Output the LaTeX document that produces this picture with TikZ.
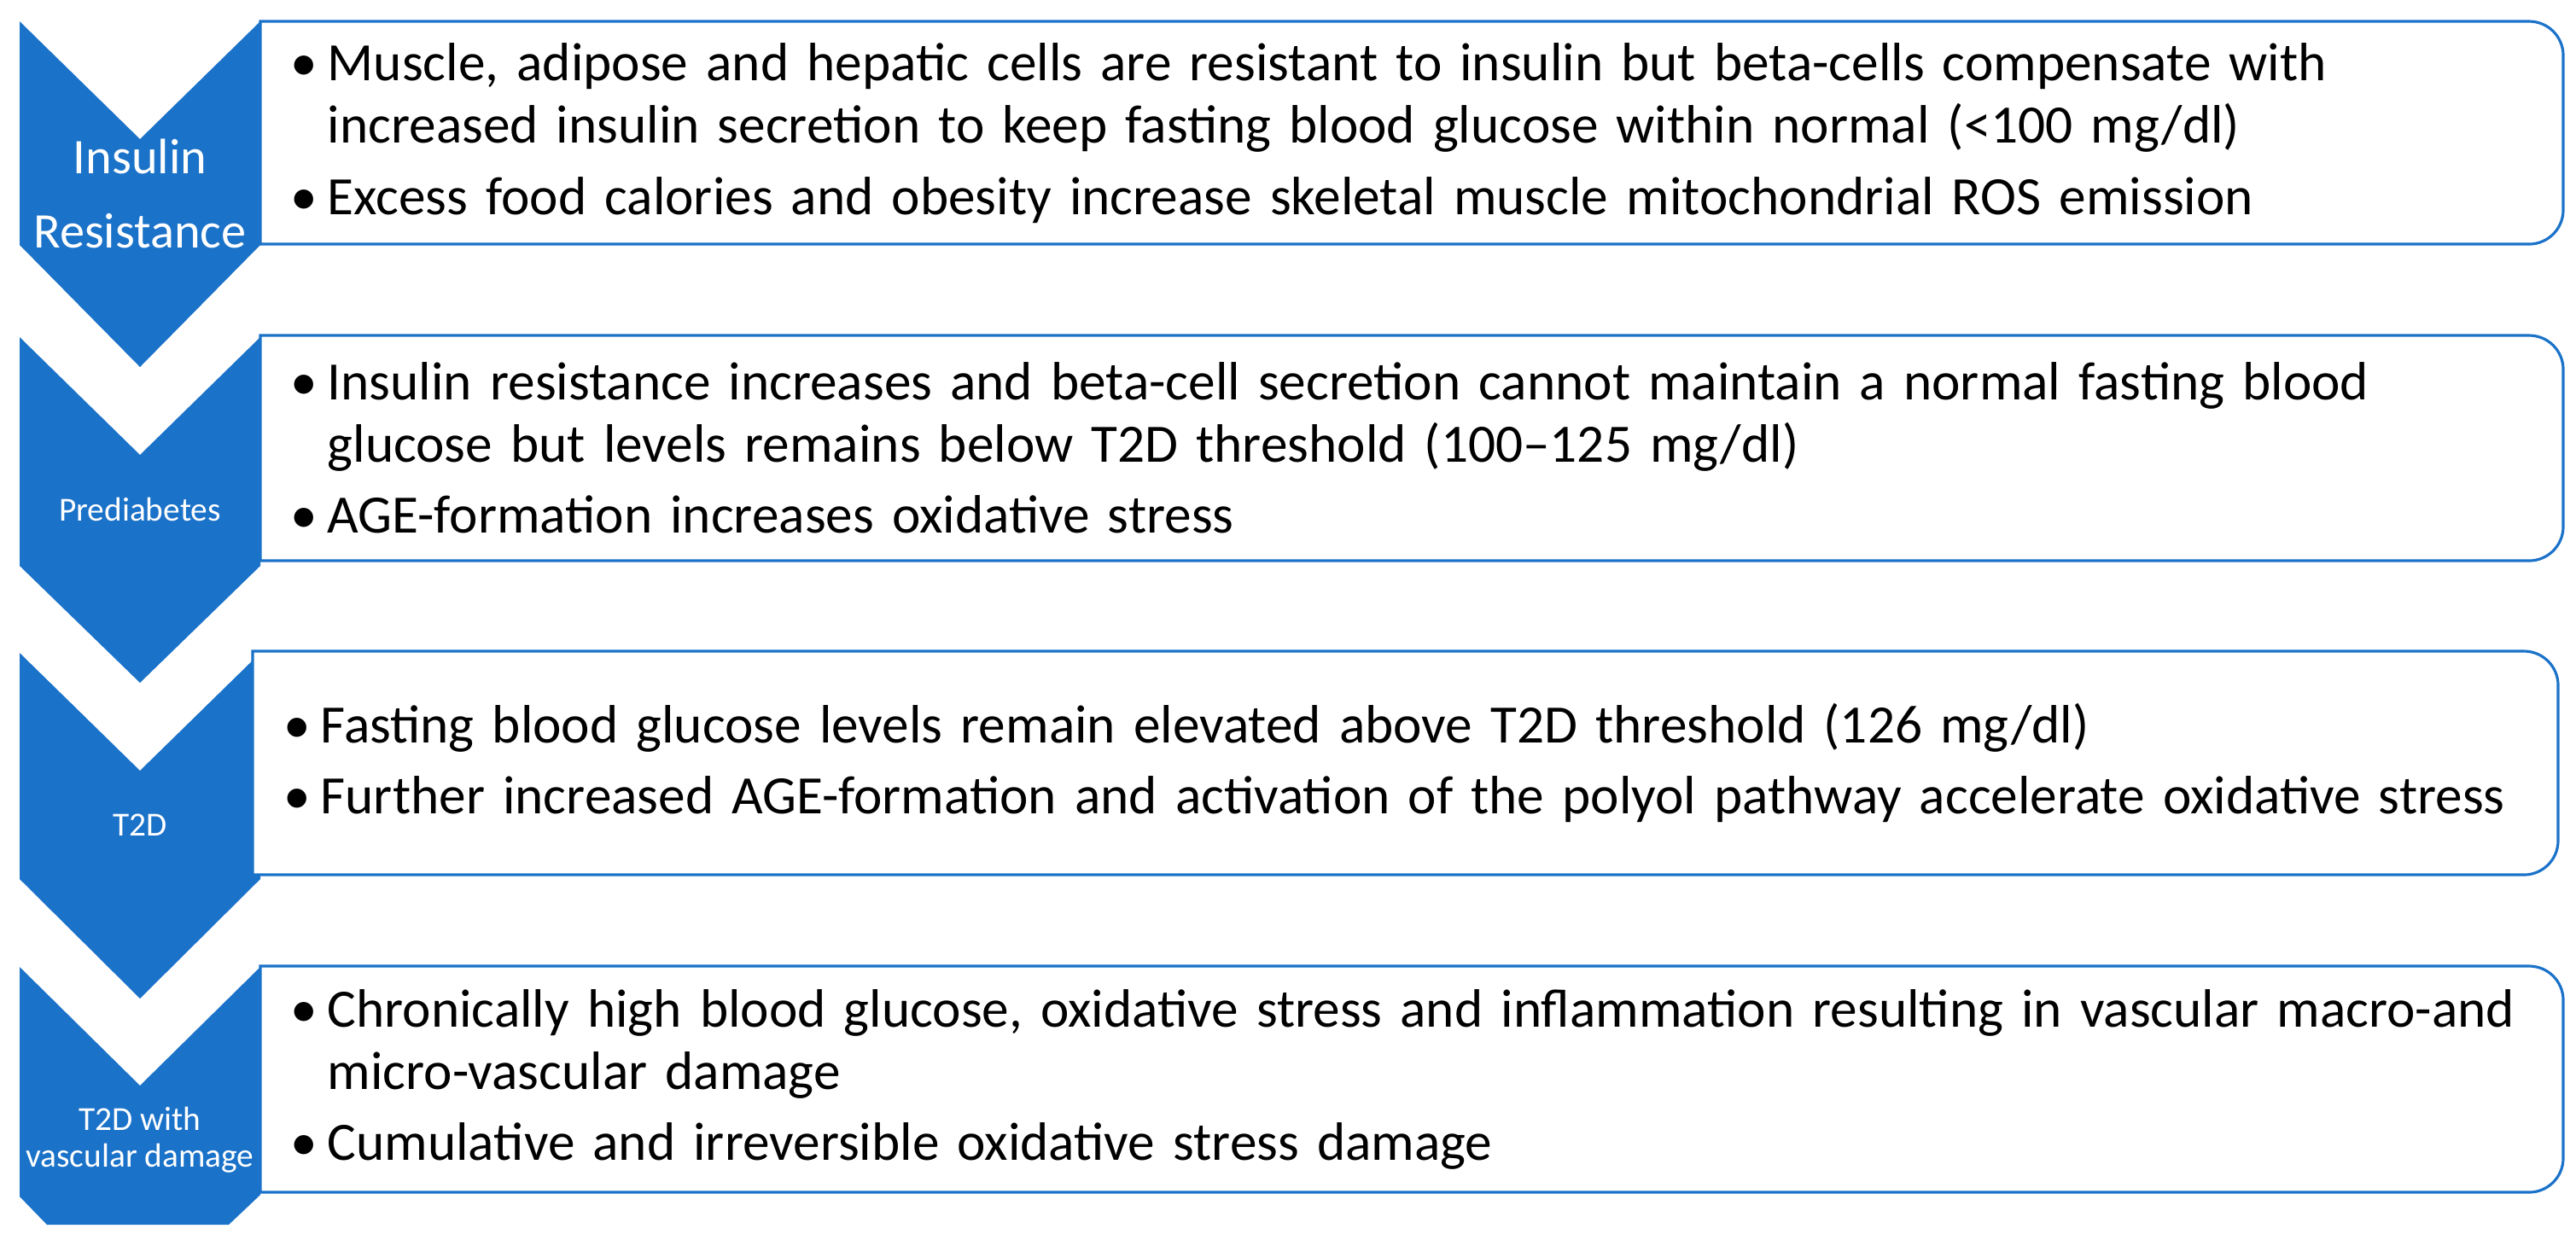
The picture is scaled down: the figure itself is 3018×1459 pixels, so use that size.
\documentclass[tikz,border=0pt]{standalone}
\usepackage{fontspec}
\setmainfont{Carlito}
\definecolor{stageblue}{RGB}{27,114,201}
\newcommand{\bpoint}[1]{\hangindent=0.43cm\hangafter=1\noindent\makebox[0.43cm][l]{\textbullet}#1\par}

\begin{document}
\begin{tikzpicture}[x=0.01cm,y=-0.01cm,
    chevron/.style={fill=stageblue},
    infobox/.style={draw=stageblue,line width=0.9pt,fill=white},
    stage/.style={text=white,align=center,inner sep=0pt,font=\fontsize{11.2}{12.2}\selectfont},
    points/.style={anchor=west,inner sep=0pt,text width=26.8cm,font=\fontsize{18}{20.8}\selectfont}]
    \useasboundingbox (0,0) rectangle (3018,1459);
    % chevrons down the left side
    \fill [chevron] (23,25) -- (164,163) -- (305,25) -- (305,287) -- (164,430) -- (23,287) -- cycle;
    \fill [chevron] (23,395) -- (164,533) -- (305,395) -- (305,663) -- (164,800) -- (23,663) -- cycle;
    \fill [chevron] (23,765) -- (164,903) -- (305,765) -- (305,1030) -- (164,1170) -- (23,1030) -- cycle;
    \fill [chevron] (23,1133) -- (164,1272) -- (305,1133) -- (305,1400) -- (268,1435) -- (55,1435) -- (23,1402) -- cycle;
    % text boxes, rounded on the right only
    \draw [infobox] (305,25) -- (2963,25) arc[start angle=90,end angle=0,radius=0.4cm] -- (3003,246) arc[start angle=0,end angle=-90,radius=0.4cm] -- (305,286) -- cycle;
    \draw [infobox] (305,393) -- (2963,393) arc[start angle=90,end angle=0,radius=0.4cm] -- (3003,617) arc[start angle=0,end angle=-90,radius=0.4cm] -- (305,657) -- cycle;
    \draw [infobox] (296,763) -- (2957,763) arc[start angle=90,end angle=0,radius=0.4cm] -- (2997,985) arc[start angle=0,end angle=-90,radius=0.4cm] -- (296,1025) -- cycle;
    \draw [infobox] (305,1132) -- (2963,1132) arc[start angle=90,end angle=0,radius=0.4cm] -- (3003,1357) arc[start angle=0,end angle=-90,radius=0.4cm] -- (305,1397) -- cycle;
    % stage names
    \node [stage,font=\fontsize{16.6}{24.5}\selectfont] (irlab) at (164,227) {Insulin\\Resistance};
    \node [stage] (prelab) at (164,597) {Prediabetes};
    \node [stage] (t2dlab) at (164,967) {T2D};
    \node [stage] (vasclab) at (164,1336) {T2D with\\vascular damage};
    % bullet points
    \node [points] (irpts) at (340,156) {\raggedright\setlength{\parskip}{0.1cm}%
        \bpoint{Muscle, adipose and hepatic cells are resistant to insulin but beta-cells compensate with\newline increased insulin secretion to keep fasting blood glucose within normal (<100 mg/dl)}
        \bpoint{Excess food calories and obesity increase skeletal muscle mitochondrial ROS emission}};
    \node [points] (prepts) at (340,525) {\raggedright\setlength{\parskip}{0.1cm}%
        \bpoint{Insulin resistance increases and beta-cell secretion cannot maintain a normal fasting blood\newline glucose but levels remains below T2D threshold (100–125 mg/dl)}
        \bpoint{AGE-formation increases oxidative stress}};
    \node [points] (t2dpts) at (332,894) {\raggedright\setlength{\parskip}{0.1cm}%
        \bpoint{Fasting blood glucose levels remain elevated above T2D threshold (126 mg/dl)}
        \bpoint{Further increased AGE-formation and activation of the polyol pathway accelerate oxidative stress}};
    \node [points] (vascpts) at (340,1265) {\raggedright\setlength{\parskip}{0.1cm}%
        \bpoint{Chronically high blood glucose, oxidative stress and inflammation resulting in vascular macro-and\newline micro-vascular damage}
        \bpoint{Cumulative and irreversible oxidative stress damage}};
\end{tikzpicture}
\end{document}
